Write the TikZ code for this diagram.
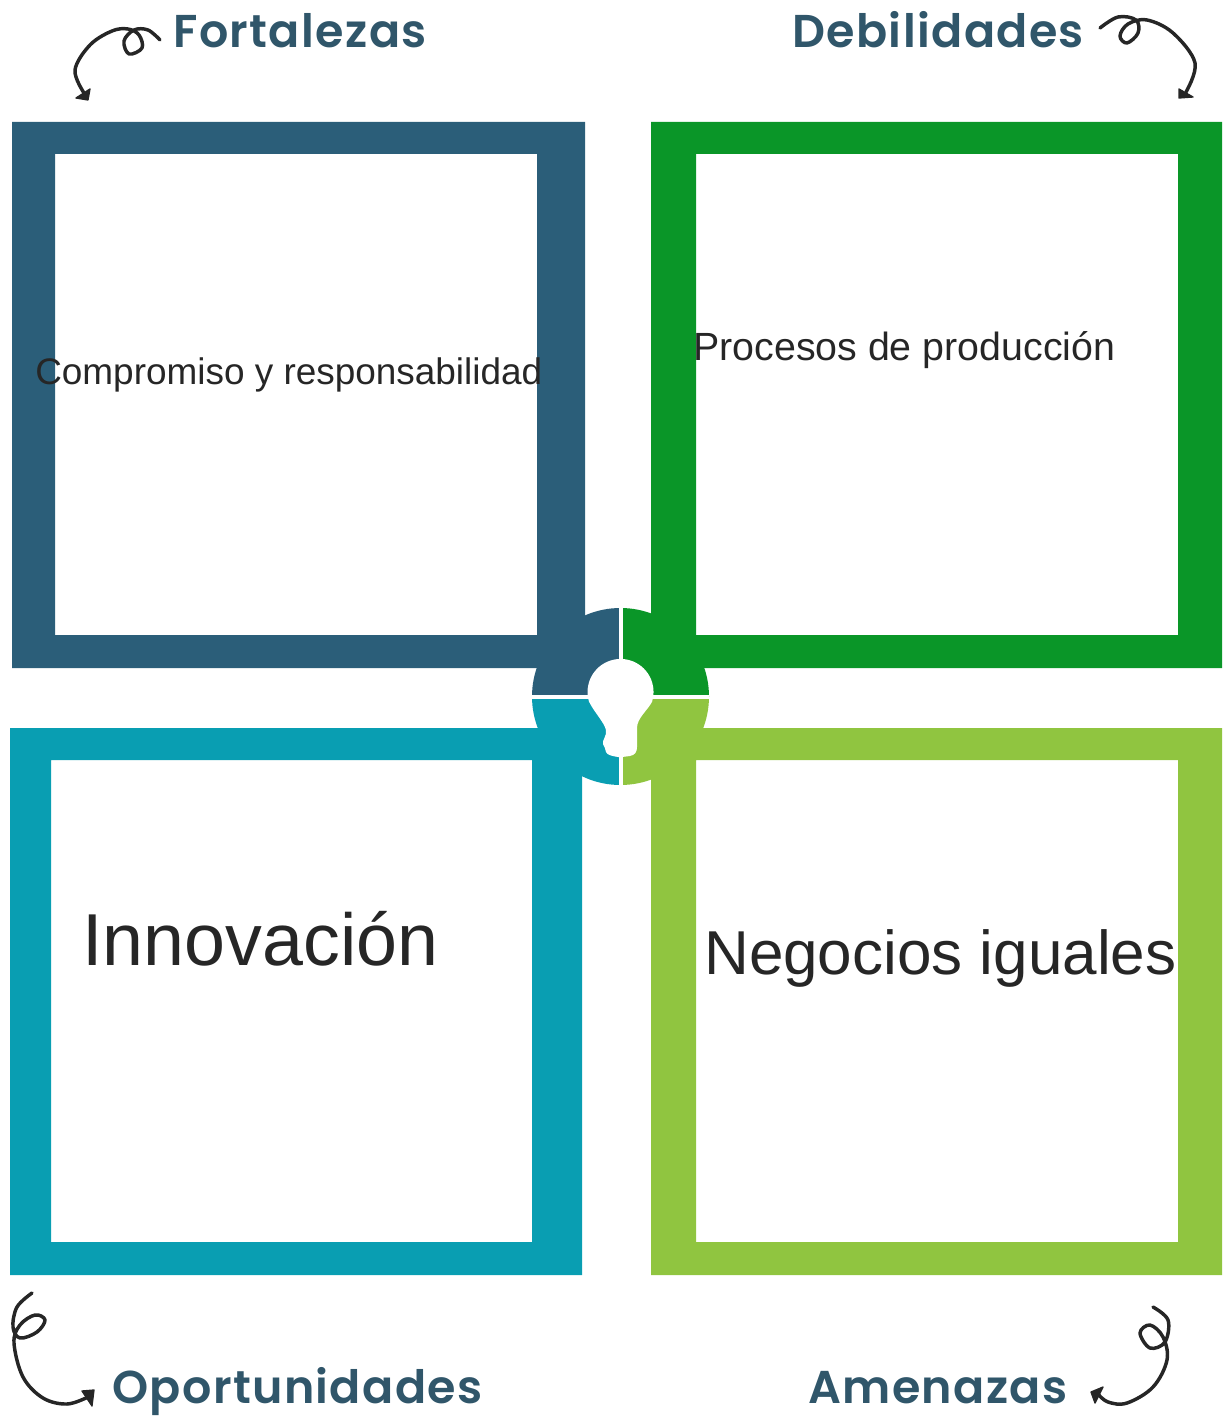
\documentclass[tikz,border=0pt]{standalone}
\usepackage{fontspec}
\setmainfont{Liberation Sans}
\newfontfamily\headf[LetterSpace=3]{Poppins SemiBold}
\usetikzlibrary{arrows.meta}
\definecolor{cTL}{HTML}{2B5E79}
\definecolor{cTR}{HTML}{0A9628}
\definecolor{cBL}{HTML}{099EB2}
\definecolor{cBR}{HTML}{90C540}
\definecolor{cHead}{HTML}{30566A}
\definecolor{cBody}{HTML}{262626}
\definecolor{cCurl}{HTML}{262626}
\tikzset{
  head/.style={anchor=base west,inner sep=0pt,text=cHead,font=\headf\fontsize{34.5}{34.5}\selectfont},
  body/.style={anchor=base west,inner sep=0pt,text=cBody},
  curl/.style={draw=cCurl,line width=2.6pt,line cap=round,line join=round},
  tip/.style={fill=cCurl,draw=cCurl,line width=1pt,line join=round},
  gap/.style={draw=white,line width=3pt}
}
\begin{document}
\begin{tikzpicture}[x=0.75pt,y=-0.75pt]
\useasboundingbox (0,0) rectangle (1224,1416);
% frames
\fill[cTL,even odd rule] (12,122) rectangle (585,668) (55,154) rectangle (537,635);
\fill[cTR,even odd rule] (651,122) rectangle (1222,668) (696,154) rectangle (1178,635);
\fill[cBL,even odd rule] (10,728) rectangle (582,1275) (51,760) rectangle (532,1242);
\fill[cBR,even odd rule] (651,728) rectangle (1222,1275) (696,760) rectangle (1178,1242);
% central disc
\coordinate (ctr) at (620.5,696.5);
\fill[cTL] (ctr) -- (532,696.5) arc[start angle=180,end angle=90,radius=88.5*0.75pt] -- cycle;
\fill[cTR] (ctr) -- (620.5,608) arc[start angle=90,end angle=0,radius=88.5*0.75pt] -- cycle;
\fill[cBR] (ctr) -- (709,696.5) arc[start angle=0,end angle=-90,radius=88.5*0.75pt] -- cycle;
\fill[cBL] (ctr) -- (620.5,785) arc[start angle=-90,end angle=-180,radius=88.5*0.75pt] -- cycle;
\draw[gap] (532,696.5) -- (709,696.5);
\draw[gap] (620.5,606) -- (620.5,787);
% bulb with head profile
\fill[white] (589,701.6) arc[start angle=197,end angle=-17,radius=33*0.75pt]
  .. controls (648,710) and (637,718) .. (637,728)
  -- (637,747) .. controls (637,752) and (635,755) .. (630,756) -- (622,757) -- (618,757)
  .. controls (612,756) and (607,755) .. (606,752)
  .. controls (605,749) and (605,747) .. (603,744)
  .. controls (602,740) and (607,736) .. (606,730)
  .. controls (604,722) and (594,712) .. (589,701.6) -- cycle;
% texts
\node[body,font=\fontsize{27.7}{27.7}\selectfont] (t1) at (35,384) {Compromiso y responsabilidad};
\node[body,font=\fontsize{29.5}{29.5}\selectfont] (t2) at (693,360) {Procesos de producción};
\node[body,font=\fontsize{55.2}{55.2}\selectfont] (t3) at (82,965) {Innovación};
\node[body,font=\fontsize{46.5}{46.5}\selectfont] (t4) at (704,974) {Negocios iguales};
\node[head] (h1) at (173,48) {Fortalezas};
\node[head] (h2) at (792,48) {Debilidades};
\node[head] (h3) at (112,1403) {Oportunidades};
\node[head] (h4) at (808,1403) {Amenazas};
% curls
\draw[curl] plot[smooth,tension=0.6] coordinates {(160,40) (148,30) (134,30) (124,41) (129,54) (142,48) (139,35) (128,29) (112,31) (90,45) (75,70) (84,93)};
\fill[tip] (76,98) -- (90,89) -- (88,100) -- cycle;
\draw[curl] plot[smooth,tension=0.6] coordinates {(1100,28) (1118,17) (1136,20) (1138,33) (1127,43) (1120,36) (1128,24) (1147,20) (1173,33) (1195,63) (1186,92)};
\fill[tip] (1179,89) -- (1193,97) -- (1179,98) -- cycle;
\draw[curl] plot[smooth,tension=0.6] coordinates {(32,1293) (17,1307) (13,1327) (20,1338) (37,1332) (45,1320) (35,1315) (20,1325) (14,1343) (23,1377) (43,1398) (67,1404) (88,1397)};
\fill[tip] (82,1391) -- (94,1390) -- (92,1406) -- cycle;
\draw[curl] plot[smooth,tension=0.6] coordinates {(1153,1307) (1168,1320) (1165,1342) (1150,1348) (1140,1333) (1150,1325) (1163,1337) (1167,1360) (1153,1387) (1127,1403) (1108,1402) (1098,1394)};
\fill[tip] (1091,1392) -- (1103,1387) -- (1095,1403) -- cycle;
\end{tikzpicture}
\end{document}
